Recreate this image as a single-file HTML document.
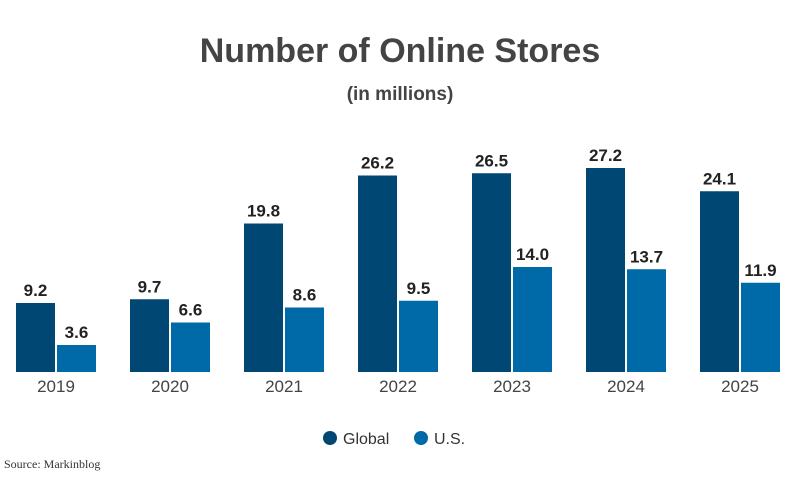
<!DOCTYPE html>
<html><head><meta charset="utf-8"><style>
body{margin:0;background:#fff;width:800px;height:475px;overflow:hidden;font-family:"Liberation Sans",sans-serif}
</style></head><body>
<svg width="800" height="475" xmlns="http://www.w3.org/2000/svg">
<text x="400" y="62" text-anchor="middle" font-size="34" font-weight="bold" fill="#444">Number of Online Stores</text>
<text x="400" y="100" text-anchor="middle" font-size="19" font-weight="bold" fill="#444">(in millions)</text>
<g id="bars"></g>
<g>
<circle cx="330" cy="438" r="7" fill="#004774"/>
<text x="343" y="444" font-size="16" fill="#333">Global</text>
<circle cx="421" cy="438" r="7" fill="#0069a8"/>
<text x="434" y="444" font-size="16" fill="#333">U.S.</text>
</g>
<text x="4" y="468" font-size="12" font-family="Liberation Serif,serif" fill="#333">Source: Markinblog</text>
</svg>
<script>
const categories=["2019","2020","2021","2022","2023","2024","2025"];
const globalValues=[9.2,9.7,19.8,26.2,26.5,27.2,24.1];
const usValues=[3.6,6.6,8.6,9.5,14.0,13.7,11.9];
const NS="http://www.w3.org/2000/svg";
const g=document.getElementById('bars');
const baseY=372, scale=7.5, x0=16, pitch=114, bw=39, gap=2;
const y=v=>baseY-v*scale;
function mk(t,a){const e=document.createElementNS(NS,t);for(const k in a)e.setAttribute(k,a[k]);g.appendChild(e);return e;}
categories.forEach((c,i)=>{
  const gx=x0+i*pitch;
  [[globalValues[i],gx,"#004774","global"],[usValues[i],gx+bw+gap,"#0069a8","us"]].forEach(([v,x,col,s])=>{
    const r=mk('rect',{x:x,y:y(v),width:bw,height:v*scale,fill:col});
    
    
    const t=mk('text',{x:x+bw/2,y:y(v)-7,'text-anchor':'middle','font-size':17,'font-weight':'bold',fill:'#222'});
    t.textContent=v.toFixed(1);
    
    
  });
  const l=mk('text',{x:gx+bw+gap/2,y:392,'text-anchor':'middle','font-size':17,fill:'#444'});
  l.textContent=c;
  
  
});
</script>
</body></html>
